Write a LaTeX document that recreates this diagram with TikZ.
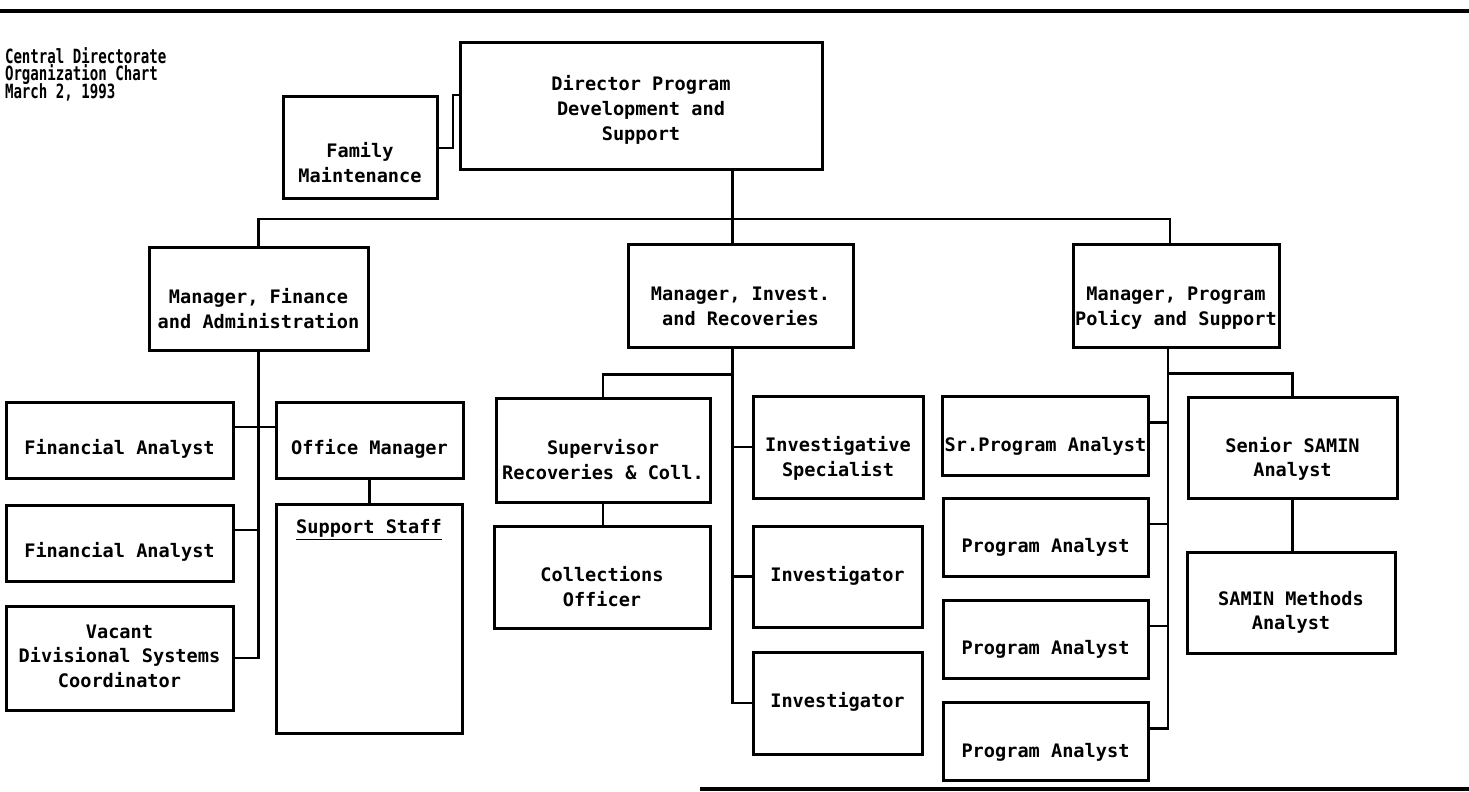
\documentclass[tikz,border=0pt]{standalone}
\usepackage{fontspec}
\usepackage{tikz}
\usetikzlibrary{calc}
\newfontfamily\chartfont{DejaVu Sans Mono}
\newcommand\orgfont{\chartfont\bfseries\fontsize{9.3}{12.3}\selectfont}
\newcommand\headfont{\chartfont\bfseries\fontsize{9.8}{8.8}\selectfont\lineskiplimit=-20pt}
% text sits a little below the middle of most boxes
\newcommand\lowered[2][6pt]{\raisebox{-#1}[\height][\depth]{\begin{tabular}{@{}c@{}}#2\end{tabular}}}

\begin{document}
\begin{tikzpicture}[
  x=0.5pt, y=-0.5pt,
  line width=1.4pt,
  orgbox/.style 2 args={
    draw,
    line width=1.5pt,
    inner sep=1pt,
    minimum width=#1*0.5pt,
    minimum height=#2*0.5pt,
    font=\orgfont
    },
  rule/.style={line width=1.6pt}
]
\useasboundingbox (0,0) rectangle (1469,792);

\draw[rule] (0,11) -- (1469,11);
\draw[rule] (700,789) -- (1469,789);

\node[anchor=north west, inner sep=0pt, align=left, font=\headfont, xscale=0.72, transform shape] (title) at (4,46)
  {Central Directorate\\Organization Chart\\March 2, 1993};

% top of the chart
\node[orgbox={154}{102}] (fam) at (360,148) {\lowered[8.5pt]{Family\\Maintenance}};
\node[orgbox={362}{127}] (dir) at (641,106.5) {\lowered[2pt]{Director Program\\Development and\\Support}};

\node[orgbox={219}{102}] (mfin) at (258.5,299) {\lowered{Manager, Finance\\and Administration}};
\node[orgbox={225}{102}] (minv) at (740.5,296) {\lowered{Manager, Invest.\\and Recoveries}};
\node[orgbox={206}{102}] (mprog) at (1176,296) {\lowered{Manager, Program\\Policy and Support}};

% finance and administration
\node[orgbox={227}{76}] (fa1) at (119.5,440) {\lowered[5pt]{Financial Analyst}};
\node[orgbox={227}{76}] (fa2) at (119.5,543) {\lowered[5pt]{Financial Analyst}};
\node[orgbox={227}{104}] (vac) at (119.5,658) {\lowered[0pt]{Vacant\\Divisional Systems\\Coordinator}};
\node[orgbox={187}{76}] (office) at (369.5,440) {\lowered[5pt]{Office Manager}};
\node[orgbox={186}{229}, text height=13.5pt, text depth=99pt] (staff) at (369,618.5) {\underline{Support Staff}};

% investigations and recoveries
\node[orgbox={214}{104}] (sup) at (603,450) {\lowered{Supervisor\\Recoveries \& Coll.}};
\node[orgbox={216}{102}] (coll) at (602,577) {\lowered{Collections\\Officer}};
\node[orgbox={170}{102}] (ispec) at (838,447) {\lowered{Investigative\\Specialist}};
\node[orgbox={169}{101}] (inv1) at (837.5,576.5) {\lowered[0pt]{Investigator}};
\node[orgbox={169}{102}] (inv2) at (837.5,703) {\lowered[0pt]{Investigator}};

% program policy and support
\node[orgbox={205}{79}] (srpa) at (1045.5,435.5) {\lowered[5.5pt]{Sr.Program Analyst}};
\foreach \Posy [count=\Posi from 1] in {537,639,741.5}
  \node[orgbox={205}{78}] (pa\Posi) at (1045.5,\Posy) {\lowered[5.5pt]{Program Analyst}};
\node[orgbox={209}{101}] (senior) at (1292.5,447.5) {\lowered{Senior SAMIN\\Analyst}};
\node[orgbox={208}{101}] (methods) at (1291,602.5) {\lowered[5pt]{SAMIN Methods\\Analyst}};

% connectors
\coordinate (famjoin) at (453,95);
\coordinate (bar) at (0,219);
\coordinate (invtop) at ([xshift=-4pt]minv.north);
\coordinate (invtrunk) at ([xshift=-4pt]minv.south);
\coordinate (progtop) at ([xshift=-3pt]mprog.north);
\coordinate (progtrunk) at ([xshift=-4pt]mprog.south);

\draw (fam.east) -| (famjoin) -- (famjoin -| dir.west);
\draw (invtop |- dir.south) -- (invtop);
\draw (mfin.north) |- (progtop |- bar) -- (progtop);

\draw (mfin.south) -- (mfin.south |- vac.east) -- (vac.east);
\draw ([yshift=6.5pt]fa1.east) -- ([yshift=6.5pt]office.west);
\draw ([yshift=6.5pt]fa2.east) -| (mfin.south);
\draw (office.south) -- (office.south |- staff.north);

\draw (invtrunk) -- (invtrunk |- inv2.west) -- (inv2.west);
\draw (invtrunk |- inv1.west) -- (inv1.west);
\draw (invtrunk |- ispec.west) -- (ispec.west);
\draw ($(invtrunk)+(0,26)$) -| (sup.north);
\draw (sup.south) -- (sup.south |- coll.north);

\draw (progtrunk) |- ([yshift=6.5pt]pa3.east);
\foreach \Box in {srpa,pa1,pa2}
  \draw ([yshift=6.5pt]\Box.east) -| (progtrunk);
\draw ($(progtrunk)+(0,25)$) -| (senior.north);
\draw (senior.south) -- (senior.south |- methods.north);

\end{tikzpicture}
\end{document}
